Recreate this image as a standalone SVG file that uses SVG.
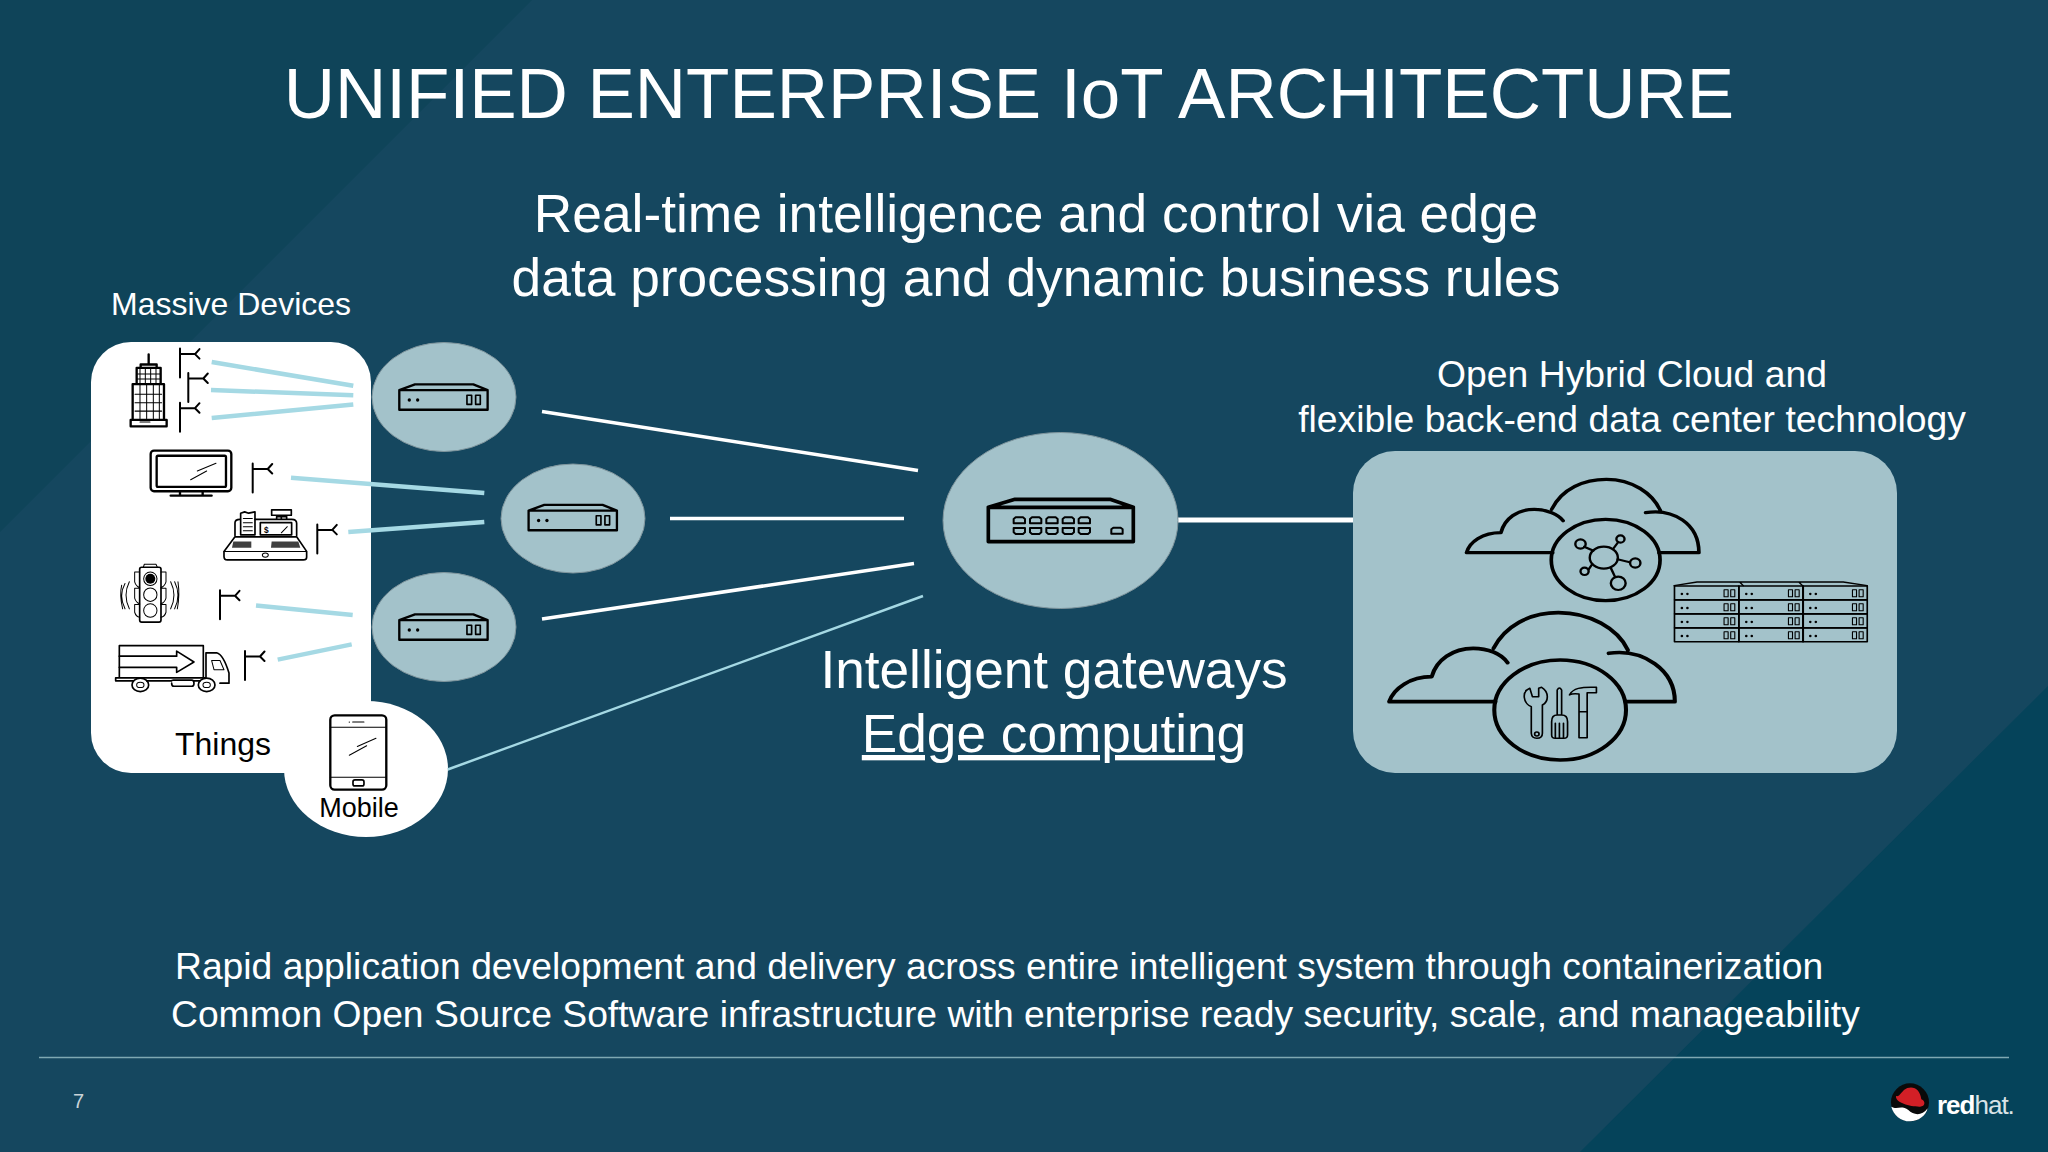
<svg xmlns="http://www.w3.org/2000/svg" width="2048" height="1152" viewBox="0 0 2048 1152">
<style>
text{font-family:"Liberation Sans",Arial,sans-serif}
.w{fill:#fff}
.c{text-anchor:middle}
.k{fill:#000}
.ln{fill:none;stroke:#000;stroke-linejoin:round;stroke-linecap:round}
.t{stroke-width:3}
.m{stroke-width:5}
.b{stroke-width:7}
.blue{stroke:#a5d9e4;stroke-width:4.5;fill:none}
.white{stroke:#fff;stroke-width:3.5;fill:none}
.pan{fill:#a3c2ca}
</style>
<defs>
<g id="ant" class="ln"><path d="M0 0V29M0 5.500H15M19.500 .5L15 5.500L19.500 10" stroke-width="2"/></g>
<g id="srv">
<path class="ln b" d="M958 178H1223V236H958ZM958 178L1005 161H1180L1223 178"/>
<circle cx="988" cy="207" r="5" fill="#000"/><circle cx="1013" cy="207" r="5" fill="#000"/>
<path class="ln m" d="M1161 193h14v27h-14zM1187 193h14v27h-14z"/>
</g>
<g id="rk">
<path class="ln" stroke-width="4.500" d="M0 0H174V41H0Z"/>
<circle cx="20" cy="24" r="3.500" fill="#000"/><circle cx="35" cy="24" r="3.500" fill="#000"/>
<path class="ln" stroke-width="3" d="M134 11h11v21h-11zM152 11h11v21h-11z"/>
</g>
<g id="pt"><path class="ln" stroke-width="6" d="M0 5L6 0H28L34 5V18H0Z"/></g>
</defs>

<g id="background">
<rect width="2048" height="1152" fill="#15475f"/>
<polygon points="0,0 532,0 0,532" fill="#0f4459"/>
<polygon points="2048,686 2048,1152 1580,1152" fill="#05435a"/>
</g>

<text id="title" class="w c" x="1009" y="118" font-size="71">UNIFIED ENTERPRISE IoT ARCHITECTURE</text>
<g id="subtitle" class="w c" font-size="53.300"><text x="1036" y="232">Real-time intelligence and control via edge</text><text x="1036" y="296">data processing and dynamic business rules</text></g>

<g id="things">
<text class="w" x="111" y="315" font-size="32">Massive Devices</text>
<rect x="91" y="342" width="280" height="431" rx="40" fill="#fff"/>
<text class="k" x="175" y="755" font-size="32">Things</text>
<g transform="translate(80 330) scale(.3333 .338)">
<g id="building">
<path class="ln b" d="M152 266h108v19H152ZM158 160h94v106H158ZM170 112h72v48H170ZM182 102h48v10H182ZM206 72V102"/>
<path class="ln t" d="M180 115V160M196 115V160M212 115V160M228 115V160M172 130H240M172 145H240M165 190H245M165 215H245M165 240H245M180 160V262M200 160V262M220 160V262M238 160V262M180 272H210"/>
</g>
<g id="tv">
<rect class="ln b" x="212" y="357" width="242" height="120" rx="10"/><rect class="ln b" x="230" y="372" width="208" height="92" rx="4"/>
<path class="ln b" d="M300 477V490M368 477V490M272 490H395"/>
<path class="ln t" d="M332 443L380 417M352 417L408 394"/>
</g>
<g id="register">
<path class="ln m" d="M465 608V570Q465 560 480 560M525 560H635Q650 560 650 572V608M575 532H634V548H575ZM604 548V560M590 560V552H620V560"/>
<path class="ln m" d="M482 606V542L494 538L506 542L525 538V606Z"/>
<path class="ln t" d="M490 558H517M490 570H517M490 582H517M490 594H517"/>
<rect class="ln m" x="541" y="570" width="94" height="36"/>
<text x="552" y="600" font-size="25" font-weight="bold" class="k">$</text>
<path class="ln t" d="M604 600L622 582"/>
<path class="ln m" d="M465 612H650L680 655V672Q680 680 670 680H442Q432 680 432 670V655Z"/>
<path d="M460 626h54v18h-58zM575 626h80l6 18h-88z" fill="#000" opacity=".75"/>
<path class="ln t" d="M432 655H680"/>
<ellipse class="ln t" cx="556" cy="666" rx="9" ry="6"/>
</g>
<g id="traffic">
<rect class="ln m" x="179" y="702" width="64" height="162" rx="6"/>
<path class="ln t" d="M190 702L193 693H228L232 702"/>
<circle cx="211" cy="736" r="20" class="ln t"/><circle cx="211" cy="736" r="15" fill="#000"/>
<circle cx="211" cy="783" r="20" class="ln t"/><circle cx="211" cy="830" r="20" class="ln t"/>
<path class="ln t" d="M179 716H164V745Q168 758 179 762M179 764H164V793Q168 806 179 810M179 812H164V835Q168 848 179 850M243 716H258V745Q254 758 243 762M243 764H258V793Q254 806 243 810M243 812H258V835Q254 848 243 850"/>
<path class="ln t" d="M148 745Q128 785 148 825M135 750Q115 785 135 825M125 755Q118 785 128 825M272 745Q292 785 272 825M284 745Q304 785 284 825M294 745Q300 785 292 825"/>
</g>
<g id="truck">
<path class="ln m" d="M118 1027V934H370V1027"/>
<path class="ln m" d="M118 965H290V950L342 982L290 1013V998H118"/>
<path class="ln m" d="M378 1027V955H410Q430 960 447 1015V1045H420M107 1029H378M107 1029V1038H160M200 1038H275M342 1038H360M275 1038Q275 1036 280 1036H335Q342 1036 342 1045Q342 1054 335 1054H282Q275 1054 275 1045"/>
<path class="ln t" d="M395 978H420L432 1005H402Z"/>
<ellipse class="ln m" cx="181" cy="1050" rx="25" ry="20"/><ellipse class="ln t" cx="181" cy="1050" rx="11" ry="8"/>
<ellipse class="ln m" cx="380" cy="1050" rx="25" ry="20"/><ellipse class="ln t" cx="380" cy="1050" rx="11" ry="8"/>
</g>
</g>
<use href="#ant" x="180" y="348.600"/><use href="#ant" x="188.300" y="373"/><use href="#ant" x="180" y="402.700"/>
<use href="#ant" x="252.700" y="463.500"/><use href="#ant" x="317.300" y="524.400"/><use href="#ant" x="220" y="590.300"/><use href="#ant" x="245" y="651"/>
</g>

<g id="mobile">
<ellipse cx="366" cy="769" rx="82" ry="68" fill="#fff"/>
<g transform="translate(80 330) scale(.3333 .338)">
<rect class="ln b" x="751" y="1140" width="168" height="220" rx="13"/>
<path class="ln t" d="M751 1175H919M751 1323H919M818 1160H852"/><circle cx="808" cy="1160" r="2" fill="#000"/>
<rect class="ln m" x="819" y="1331" width="33" height="18" rx="6"/>
<path class="ln t" d="M808 1258L860 1230M832 1232L888 1208"/>
</g>
<text class="k c" x="359" y="817" font-size="27">Mobile</text>
</g>

<g id="gateway-1"><ellipse class="pan" cx="444" cy="397" rx="72" ry="54.500" stroke="#7f959d"/><g transform="translate(80 330) scale(.3333 .338)"><use href="#srv"/></g></g>
<g id="gateway-2"><ellipse class="pan" cx="573" cy="518.500" rx="72" ry="54.500" stroke="#7f959d"/><g transform="translate(209.300 450.500) scale(.3333 .338)"><use href="#srv"/></g></g>
<g id="gateway-3"><ellipse class="pan" cx="444" cy="627" rx="72" ry="54.500" stroke="#7f959d"/><g transform="translate(80 560) scale(.3333 .338)"><use href="#srv"/></g></g>

<g id="connectors">
<path class="blue" d="M211.700 362L353.300 385.800M211 390L353.300 395.200M211.700 418L353.300 404.400M291 477.700L484.300 493M348.300 532L484.300 522M256 605.500L352.700 615M277.700 659.600L351.700 644.400"/>
<path class="blue" style="stroke-width:2.500" d="M447.700 769.500L923 596"/>
<path class="white" d="M542 411.500L918 470.500M670 518.500H904M542 619L914 563.500"/>
<path class="white" style="stroke-width:5" d="M1178 520H1355"/>
</g>

<g id="gateway-hub">
<ellipse class="pan" cx="1060.500" cy="520.500" rx="117.500" ry="88" stroke="#7f959d"/>
<g transform="translate(920 420) scale(.3333)">
<path class="ln" stroke-width="11" d="M205 262H640V365H205ZM205 262L285 238H570L640 262"/>
<use href="#pt" x="281" y="292"/><use href="#pt" x="330" y="292"/><use href="#pt" x="379" y="292"/><use href="#pt" x="428" y="292"/><use href="#pt" x="476" y="292"/>
<g transform="matrix(1 0 0 -1 0 662)"><use href="#pt" x="281" y="320"/><use href="#pt" x="330" y="320"/><use href="#pt" x="379" y="320"/><use href="#pt" x="428" y="320"/><use href="#pt" x="476" y="320"/></g>
<use href="#pt" x="574" y="323"/>
</g>
</g>

<g id="cloud-panel">
<text class="w c" x="1632" y="387" font-size="37.300">Open Hybrid Cloud and</text>
<text class="w c" x="1632" y="432" font-size="37.300">flexible back-end data center technology</text>
<rect class="pan" x="1353" y="451" width="544" height="322" rx="42"/>
<g transform="translate(1340 440) scale(.37 .3333)">
<g id="cloud-a" class="ln" stroke-width="10">
<path d="M342 338C350 305 385 278 435 278C445 235 480 208 525 208C560 208 590 225 603 242M572 208C600 145 660 118 720 118C790 118 845 160 866 212M826 218C900 205 970 250 970 338M342 338H575M862 338H970"/>
<ellipse cx="718" cy="360" rx="147" ry="122"/>
<g stroke-width="6.500"><ellipse cx="713" cy="353" rx="38" ry="33"/><path d="M685 332L660 320M738 327L752 306M750 358L783 367M682 372L672 388M732 384L743 410"/>
<circle cx="650" cy="312" r="14"/><circle cx="758" cy="297" r="11"/><circle cx="798" cy="369" r="14"/><circle cx="661" cy="394" r="11"/><circle cx="752" cy="430" r="20"/></g>
</g>
<g id="cloud-b" class="ln" stroke-width="11">
<path d="M133 785C145 745 190 710 248 710C260 660 305 625 360 625C400 625 435 640 453 668M415 625C445 560 510 518 590 518C675 518 750 565 778 630M726 640C820 625 905 690 905 785M133 785H420M772 785H905"/>
<ellipse cx="595" cy="810" rx="178" ry="150"/>
<g stroke-width="4.500">
<path d="M513 745C490 755 495 790 517 800V880Q518 895 532 895Q547 895 547 880V795C565 785 565 755 545 742L537 745V770L520 770Z"/>
<circle cx="532" cy="882" r="6"/>
<path d="M587 825V750Q593 738 599 750V825M587 825H599M572 845Q572 825 587 825H599Q615 825 615 845V885Q615 895 605 895H582Q572 895 572 885Z"/>
<path d="M582 850V893M593 850V893M604 850V893"/>
<path d="M620 765C630 745 650 740 693 742V758H668V815H646V762C635 760 628 760 620 765ZM646 815H668V893H646Z"/>
</g>
</g>
<g id="rack">
<path class="ln" stroke-width="4" d="M903 437L965 426H1080L1090 437M1080 426H1240L1250 437M1240 426H1360L1425 437"/>
<use href="#rk" x="904" y="438"/><use href="#rk" x="1078" y="438"/><use href="#rk" x="1251" y="438"/>
<use href="#rk" x="904" y="480"/><use href="#rk" x="1078" y="480"/><use href="#rk" x="1251" y="480"/>
<use href="#rk" x="904" y="522"/><use href="#rk" x="1078" y="522"/><use href="#rk" x="1251" y="522"/>
<use href="#rk" x="904" y="564"/><use href="#rk" x="1078" y="564"/><use href="#rk" x="1251" y="564"/>
</g>
</g>
</g>

<g id="edge-label" class="w c" font-size="53.200"><text x="1054" y="688">Intelligent gateways</text><text x="1054" y="752" text-decoration="underline">Edge computing</text></g>

<g id="footer-text" class="w" font-size="37.250" style="white-space:pre"><text x="175" y="979">Rapid application development and delivery across entire intelligent system through containerization</text><text x="171" y="1027">Common Open Source Software  infrastructure with enterprise ready security, scale, and manageability</text></g>
<path id="rule" d="M39 1057.500H2009" stroke="#7fa8b2" stroke-width="1.500" fill="none"/>
<text id="page" x="73" y="1108" font-size="20" fill="#c9d3d8">7</text>
<g id="logo">
<g transform="translate(1860 1060) scale(.3333)">
<circle cx="150" cy="127" r="57" fill="#0a0a0a"/>
<path d="M94 140C110 150 125 135 145 150C160 165 185 170 203 145C198 168 175 184 150 184C122 184 100 165 94 140Z" fill="#fff"/>
<path d="M108 108C120 112 125 90 142 84C165 78 180 90 184 118C198 122 196 142 178 140C150 140 105 128 108 108Z" fill="#d31f26"/>
</g>
<text x="1937" y="1114" font-size="26" fill="#fff" letter-spacing="-1"><tspan font-weight="bold">red</tspan><tspan fill="#d9e3e7">hat.</tspan></text>
</g>
</svg>
